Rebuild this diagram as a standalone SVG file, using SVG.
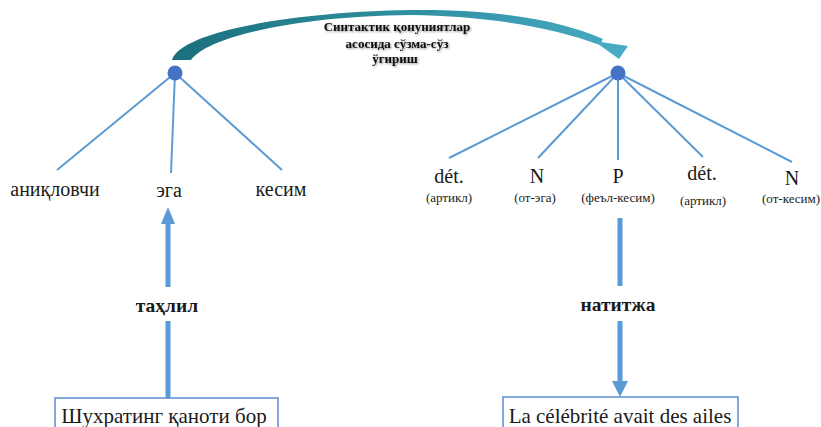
<svg xmlns="http://www.w3.org/2000/svg" width="821" height="427" viewBox="0 0 821 427">
<defs>
  <linearGradient id="arcGrad" x1="172" y1="0" x2="628" y2="0" gradientUnits="userSpaceOnUse">
    <stop offset="0" stop-color="#1b6f7c"/>
    <stop offset="0.5" stop-color="#2f8f9f"/>
    <stop offset="1" stop-color="#48aac4"/>
  </linearGradient>
  <filter id="shadow" x="-10%" y="-20%" width="120%" height="150%">
    <feDropShadow dx="1" dy="1" stdDeviation="0.8" flood-color="#000" flood-opacity="0.45"/>
  </filter>
</defs>
<style>
  .tree { stroke: #5b9bd5; stroke-width: 2; fill: none; }
  .shaft { stroke: #5b9bd5; stroke-width: 5; fill: none; }
  .head { fill: #5b9bd5; }
  .node { fill: #4472c4; }
  .lbl { font-family: "Liberation Serif", "DejaVu Serif", serif; fill: #1a1a1a; text-anchor: middle; }
  .big { font-size: 20px; }
  .boxtxt { font-size: 21px; }
  .small { font-size: 13px; }
  .bold { font-weight: bold; font-size: 19.5px; }
  .title { font-family: "Liberation Serif", "DejaVu Serif", serif; font-weight: bold; font-size: 13px; fill: #111; text-anchor: middle; }
  .box { fill: #fff; stroke: #5b8ccf; stroke-width: 1.5; }
</style>
<rect width="821" height="427" fill="#fff"/>

<g id="connectors">
  <path d="M175,73 L57,170 M175,73 L171,173 M175,73 L282,170" class="tree"/>
  <path d="M618,73 L449,158 M618,73 L538,158 M618,73 L618,160 M618,73 L703,157 M618,73 L792,162" class="tree"/>
  <path d="M168,398 L168,321 M168,287 L168,223" class="shaft"/>
  <path d="M161,224 L168,207 L175,224 Z" class="head"/>
  <path d="M620,218 L620,286 M620,321 L620,382" class="shaft"/>
  <path d="M612,381 L628,381 L620,397 Z" class="head"/>
</g>

<g id="arc">
  <path d="M172,60 C180,32 290,12 410,10 C495,9 560,20 603,39 L600,45 C555,28 490,16 410,15 C300,16 208,36 191,60 Z" fill="url(#arcGrad)"/>
  <path d="M594,41 L628,46 L619,59 Z" fill="#48aac4"/>
  <g filter="url(#shadow)">
    <text class="title" x="397" y="31">Синтактик  қонуниятлар</text>
    <text class="title" x="397" y="48">асосида сўзма-сўз</text>
    <text class="title" x="395" y="63">ўгириш</text>
  </g>
</g>

<g id="node-left"><circle cx="175" cy="73" r="7.5" class="node"/></g>
<g id="node-right"><circle cx="618" cy="73" r="7.5" class="node"/></g>

<g id="leaf-aniqlovchi"><text class="lbl big" x="55" y="196">аниқловчи</text></g>
<g id="leaf-ega"><text class="lbl big" x="169" y="197">эга</text></g>
<g id="leaf-kesim"><text class="lbl big" x="281" y="196">кесим</text></g>

<g id="leaf-det1"><text class="lbl big" x="449" y="183">dét.</text><text class="lbl small" x="449" y="202">(артикл)</text></g>
<g id="leaf-N1"><text class="lbl big" x="537" y="183">N</text><text class="lbl small" x="535" y="202">(от-эга)</text></g>
<g id="leaf-P"><text class="lbl big" x="618" y="183">P</text><text class="lbl small" x="618" y="202">(феъл-кесим)</text></g>
<g id="leaf-det2"><text class="lbl big" x="702" y="180">dét.</text><text class="lbl small" x="703" y="205">(артикл)</text></g>
<g id="leaf-N2"><text class="lbl big" x="792" y="185">N</text><text class="lbl small" x="791" y="203">(от-кесим)</text></g>

<g id="label-tahlil"><text class="lbl bold" x="167" y="312">таҳлил</text></g>
<g id="label-natija"><text class="lbl bold" x="618" y="311">натитжа</text></g>

<g id="box-left">
  <rect class="box" x="55" y="398" width="223" height="40"/>
  <text class="lbl boxtxt" x="164" y="423">Шухратинг қаноти бор</text>
</g>
<g id="box-right">
  <rect class="box" x="503" y="397" width="235" height="40"/>
  <text class="lbl boxtxt" x="620" y="423">La célébrité avait des ailes</text>
</g>
</svg>
